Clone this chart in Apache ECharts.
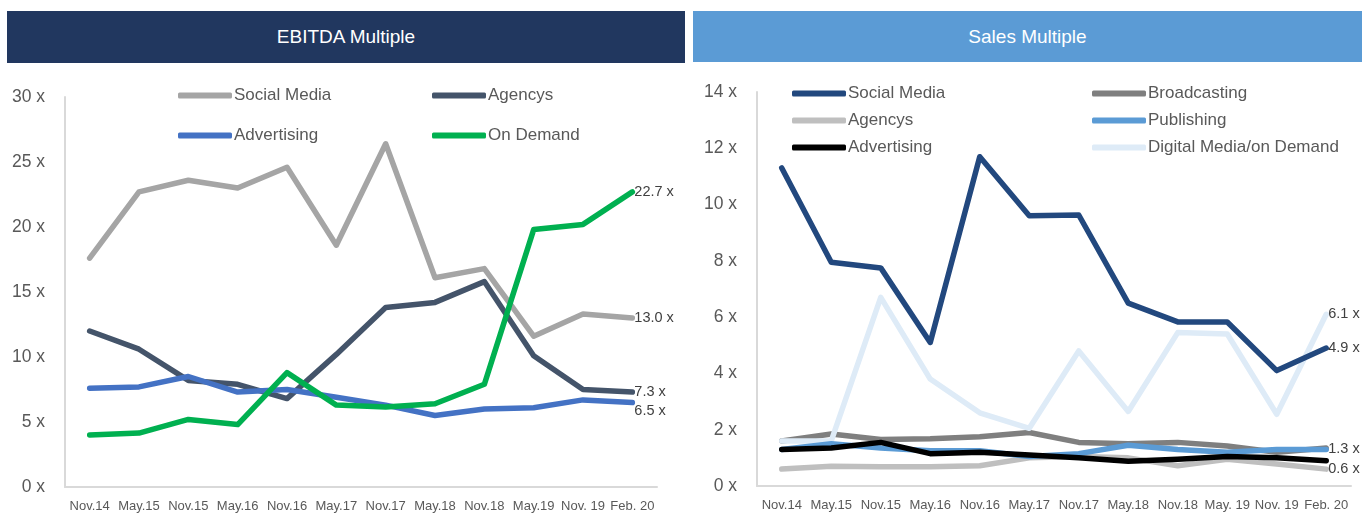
<!DOCTYPE html>
<html>
<head>
<meta charset="utf-8">
<script src="https://cdn.jsdelivr.net/npm/echarts@6/dist/echarts.min.js"></script>
<style>
html,body{margin:0;padding:0;background:#fff;width:1362px;height:514px;overflow:hidden;}
.hdr{position:absolute;color:#fff;font-family:"Liberation Sans",Arial,sans-serif;font-size:19px;display:flex;align-items:center;justify-content:center;}
.chart{position:absolute;top:0;height:514px;}
</style>
</head>
<body>
<div class="hdr" style="left:7px;top:11px;width:678px;height:52px;background:#21375F;">EBITDA Multiple</div>
<div class="hdr" style="left:693px;top:11px;width:669px;height:51px;background:#5B9BD5;">Sales Multiple</div>
<div id="c1" class="chart" style="left:0;width:690px;"></div>
<div id="c2" class="chart" style="left:690px;width:672px;"></div>
<script>
const ebitdaCategories = ['Nov.14','May.15','Nov.15','May.16','Nov.16','May.17','Nov.17','May.18','Nov.18','May.19','Nov. 19','Feb. 20'];
const salesCategories  = ['Nov.14','May.15','Nov.15','May.16','Nov.16','May.17','Nov.17','May.18','Nov.18','May. 19','Nov. 19','Feb. 20'];

// EBITDA multiple
const ebitdaSocialMedia = [17.6,22.7,23.6,23.0,24.6,18.6,26.4,16.1,16.8,11.6,13.3,13.0];
const ebitdaAgencys     = [12.0,10.6,8.2,7.9,6.8,10.2,13.8,14.2,15.8,10.1,7.5,7.3];
const ebitdaAdvertising = [7.6,7.7,8.5,7.3,7.5,6.9,6.3,5.5,6.0,6.1,6.7,6.5];
const ebitdaOnDemand    = [4.0,4.15,5.2,4.8,8.8,6.3,6.15,6.4,7.9,19.8,20.2,22.7];

// Sales multiple
const salesSocialMedia  = [11.3,7.95,7.75,5.1,11.7,9.6,9.63,6.5,5.83,5.83,4.1,4.9];
const salesBroadcasting = [1.6,1.85,1.65,1.68,1.75,1.9,1.55,1.5,1.55,1.42,1.2,1.35];
const salesAgencys      = [0.6,0.7,0.68,0.68,0.72,1.0,1.05,1.0,0.72,0.95,0.78,0.6];
const salesPublishing   = [1.3,1.5,1.35,1.25,1.25,1.05,1.15,1.45,1.3,1.2,1.3,1.3];
const salesAdvertising  = [1.3,1.35,1.55,1.15,1.2,1.1,1.0,0.88,0.95,1.05,1.0,0.9];
const salesDigital      = [1.6,1.6,6.7,3.8,2.6,2.05,4.8,2.65,5.45,5.4,2.55,6.1];

const FONT = '"Liberation Sans",Arial,sans-serif';

function legend(name, left, cy){
  return {
    data:[name], left:left, top:cy-7, padding:0, itemWidth:54, itemHeight:6,
    icon:'roundRect', selectedMode:false,
    textStyle:{fontFamily:FONT, fontSize:17, color:'#595959', padding:[0,0,0,-3]}
  };
}
function line(name, data, color, width, showEnd, offset){
  return {
    name:name, type:'line', data:data, symbol:'none', smooth:false,
    lineStyle:{color:color, width:width, cap:'round', join:'round'},
    itemStyle:{color:color},
    emphasis:{disabled:true},
    endLabel: showEnd ? {show:true, distance:2, offset:offset||[0,0], fontFamily:FONT, fontSize:14.5, color:'#404040',
      formatter:p=>p.value.toFixed(1)+' x'} : {show:false},
    animation:false
  };
}
function axes(cats, max, interval){
  return {
    xAxis:{type:'category', data:cats, boundaryGap:true,
      axisLine:{lineStyle:{color:'#D9D9D9', width:2}}, axisTick:{show:false},
      axisLabel:{fontFamily:FONT, fontSize:13, color:'#595959', margin:13, interval:0}},
    yAxis:{type:'value', min:0, max:max, interval:interval,
      axisLine:{show:true, lineStyle:{color:'#D9D9D9', width:2}}, axisTick:{show:false},
      splitLine:{show:false},
      axisLabel:{fontFamily:FONT, fontSize:17.5, color:'#595959', margin:20, formatter:'{value} x'}}
  };
}

const c1 = echarts.init(document.getElementById('c1'));
c1.setOption(Object.assign({
  animation:false,
  grid:{left:65, right:33, top:97, bottom:27},
  legend:[legend('Social Media',178,94), legend('Agencys',432,94),
          legend('Advertising',178,134), legend('On Demand',432,134)],
  series:[
    line('Social Media', ebitdaSocialMedia, '#A5A5A5', 5.5, true),
    line('Agencys', ebitdaAgencys, '#44546A', 5.5, true),
    line('Advertising', ebitdaAdvertising, '#4472C4', 5.5, true, [0,8]),
    line('On Demand', ebitdaOnDemand, '#00B050', 5.5, true)
  ]
}, axes(ebitdaCategories,30,5)));

const c2 = echarts.init(document.getElementById('c2'));
c2.setOption(Object.assign({
  animation:false,
  grid:{left:67, right:11, top:92, bottom:28},
  legend:[legend('Social Media',102,92), legend('Broadcasting',402,92),
          legend('Agencys',102,119), legend('Publishing',402,119),
          legend('Advertising',102,146), legend('Digital Media/on Demand',402,146)],
  series:[
    line('Agencys', salesAgencys, '#BFBFBF', 5.5, true),
    line('Broadcasting', salesBroadcasting, '#7F7F7F', 5.5, false),
    line('Digital Media/on Demand', salesDigital, '#DEEBF7', 5.5, true),
    line('Publishing', salesPublishing, '#5B9BD5', 5.5, true),
    line('Advertising', salesAdvertising, '#000000', 5.5, false),
    line('Social Media', salesSocialMedia, '#22487E', 5.5, true)
  ]
}, axes(salesCategories,14,2)));
</script>
</body>
</html>
